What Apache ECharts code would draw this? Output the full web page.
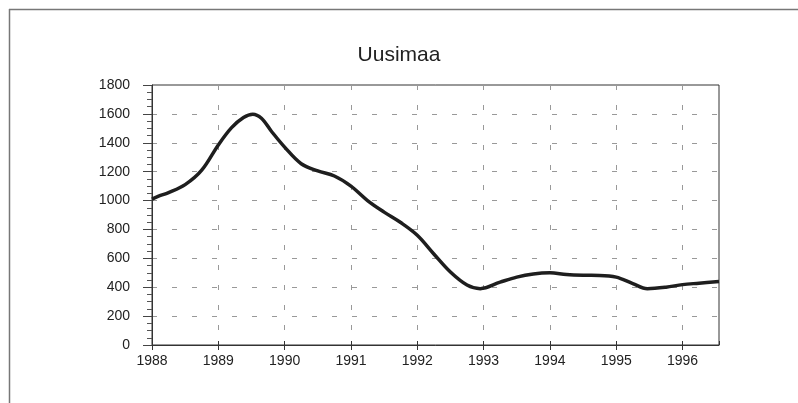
<!DOCTYPE html>
<html>
<head>
<meta charset="utf-8">
<script src="https://cdn.jsdelivr.net/npm/echarts@6/dist/echarts.min.js"></script>
<style>
html,body{margin:0;padding:0;background:#fff;}
#chart{width:798px;height:403px;}
</style>
</head>
<body>
<div id="chart"></div>
<script>
var titleText = "Uusimaa";
var years = [1988.0, 1988.1, 1988.25, 1988.5, 1988.75, 1989.0, 1989.2, 1989.38, 1989.52, 1989.65, 1989.8,
  1990.0, 1990.25, 1990.5, 1990.75, 1991.0, 1991.25, 1991.5, 1991.75, 1992.0, 1992.25,
  1992.5, 1992.75, 1992.95, 1993.25, 1993.5, 1993.75, 1994.0, 1994.25, 1994.5, 1994.75,
  1995.0, 1995.25, 1995.47, 1995.75, 1996.0, 1996.25, 1996.55];
var values = [1010, 1030, 1055, 1110, 1210, 1385, 1505, 1575, 1598, 1570, 1480,
  1370, 1255, 1205, 1170, 1100, 1000, 920, 848, 760, 630,
  505, 415, 390, 435, 470, 492, 500, 488, 483, 482,
  470, 425, 390, 400, 418, 428, 440];
var xMin = 1988, xMax = 1996.55;
var yMin = 0, yMax = 1800, yStep = 200;

var font = '"Liberation Sans Narrow", "Liberation Sans", Arial, sans-serif';
var data = years.map(function (y, i) { return [y, values[i]]; });

var chart = echarts.init(document.getElementById('chart'), null, {renderer: 'canvas'});
var gridCommon = {left: 152, right: 79, top: 85, bottom: 58};
chart.setOption({
  animation: false,
  backgroundColor: '#fff',
  title: {
    text: titleText, left: 'center', top: 40,
    textStyle: {fontFamily: font, fontSize: 21, fontWeight: 'normal', color: '#222'}
  },
  graphic: [
    {type: 'line', shape: {x1: 9, y1: 9.5, x2: 798, y2: 9.5}, style: {stroke: '#777', lineWidth: 1.5}},
    {type: 'line', shape: {x1: 9.5, y1: 9, x2: 9.5, y2: 403}, style: {stroke: '#777', lineWidth: 1.5}}
  ],
  grid: [Object.assign({show: true, borderColor: '#333', borderWidth: 1}, gridCommon)],
  xAxis: [{
    type: 'value', min: xMin, max: xMax, interval: 1,
    axisLine: {show: true, lineStyle: {color: '#333', width: 1}},
    axisTick: {show: true, length: 5, lineStyle: {color: '#333'}},
    axisLabel: {
      margin: 9, color: '#222', fontFamily: font, fontSize: 14, showMaxLabel: false,
      formatter: function (v) { return Math.abs(v - Math.round(v)) < 1e-6 ? String(Math.round(v)) : ''; }
    },
    splitLine: {show: true, lineStyle: {color: '#999', type: [5, 15], width: 1}}
  }, {
    type: 'value', min: xMin, max: xMax, interval: 1, position: 'bottom',
    axisLine: {show: false},
    axisTick: {show: true, inside: true, length: 4, lineStyle: {color: '#333'}},
    axisLabel: {show: false},
    splitLine: {show: false}
  }],
  yAxis: {
    type: 'value', min: yMin, max: yMax, interval: yStep,
    axisLine: {show: true, lineStyle: {color: '#333', width: 1}},
    axisTick: {show: true, length: 9, lineStyle: {color: '#444'}},
    minorTick: {show: true, splitNumber: 4, length: 5, lineStyle: {color: '#555'}},
    axisLabel: {margin: 22, color: '#222', fontFamily: font, fontSize: 14,
      formatter: function (v) { return String(v); }},
    splitLine: {show: true, lineStyle: {color: '#999', type: [5, 15], width: 1}}
  },
  series: [{
    type: 'line', data: data, smooth: 0.35, showSymbol: false, symbol: 'none',
    lineStyle: {color: '#1e1e1e', width: 3.5}
  }]
});
</script>
</body>
</html>
